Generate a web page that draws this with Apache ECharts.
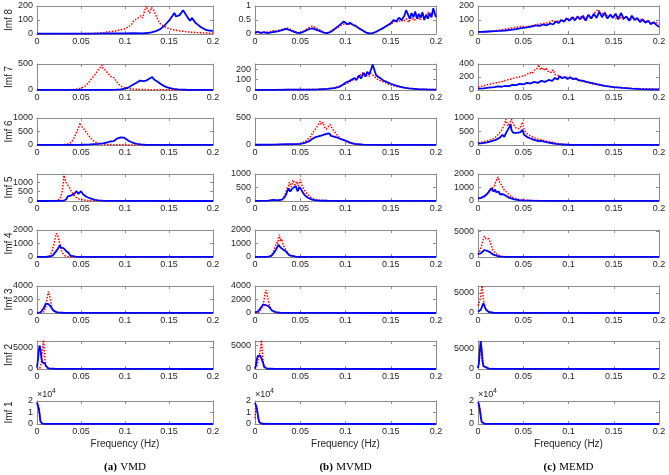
<!DOCTYPE html>
<html><head><meta charset="utf-8">
<script src="https://cdn.jsdelivr.net/npm/echarts@6/dist/echarts.min.js"></script>
<style>html,body{margin:0;padding:0;background:#fff}#c{width:669px;height:475px}</style>
</head><body><div id="c"></div>
<script>
// ---------------- DATA ----------------
const methodNames = ['VMD', 'MVMD', 'MEMD'];
const captionTags = ['(a)', '(b)', '(c)'];
const imfNames = ['Imf 8', 'Imf 7', 'Imf 6', 'Imf 5', 'Imf 4', 'Imf 3', 'Imf 2', 'Imf 1'];
const xTickValues = [0, 0.05, 0.1, 0.15, 0.2];
const xAxisTitle = 'Frequency (Hz)';
// y-axis [max, tick step] per row (Imf 8 ... Imf 1)
const vmdYRange  = [[200,100],[500,500],[1000,500],[1450,500],[2000,1000],[4000,2000],[6400,5000],[20000,10000]];
const mvmdYRange = [[1,0.5],[250,100],[500,500],[1000,500],[2000,1000],[4000,2000],[6000,5000],[20000,10000]];
const memdYRange = [[200,100],[400,200],[1000,500],[2000,1000],[5200,5000],[6700,5000],[6800,5000],[20000,10000]];

// ---- VMD ----
const vmd8_red = [[0,1],[0.02,1],[0.04,2],[0.06,3],[0.07,6],[0.075,9],[0.08,14],[0.085,18],[0.09,24],[0.095,30],[0.1,38],[0.103,48],[0.106,60],[0.108,75],[0.11,95],[0.112,85],[0.114,110],[0.116,100],[0.118,130],[0.12,115],[0.122,160],[0.124,200],[0.126,170],[0.128,150],[0.13,190],[0.132,175],[0.134,150],[0.136,120],[0.138,95],[0.14,75],[0.144,55],[0.148,42],[0.152,34],[0.156,28],[0.16,24],[0.165,20],[0.17,16],[0.175,13],[0.18,11],[0.185,9],[0.19,7],[0.195,6],[0.2,5]];
const vmd8_blue = [[0,2],[0.02,2],[0.04,2],[0.06,3],[0.08,4],[0.1,5],[0.11,6],[0.12,5],[0.125,7],[0.13,12],[0.135,20],[0.14,35],[0.144,55],[0.147,75],[0.15,95],[0.152,100],[0.154,130],[0.156,150],[0.158,125],[0.16,120],[0.162,135],[0.164,125],[0.166,170],[0.168,150],[0.17,130],[0.172,110],[0.174,95],[0.176,115],[0.178,105],[0.18,80],[0.183,65],[0.186,50],[0.19,35],[0.193,28],[0.196,25],[0.2,22]];
const vmd7_red = [[0,2],[0.03,3],[0.04,8],[0.045,15],[0.05,35],[0.055,80],[0.06,170],[0.063,240],[0.066,300],[0.068,350],[0.07,400],[0.072,440],[0.074,480],[0.075,420],[0.076,450],[0.078,380],[0.08,330],[0.082,300],[0.084,260],[0.086,290],[0.088,230],[0.09,170],[0.093,110],[0.096,70],[0.1,40],[0.105,25],[0.11,15],[0.12,10],[0.13,6],[0.14,4],[0.16,2],[0.2,1]];
const vmd7_blue = [[0,1],[0.05,2],[0.08,3],[0.09,6],[0.095,12],[0.1,25],[0.104,50],[0.108,90],[0.111,120],[0.114,150],[0.117,180],[0.119,200],[0.121,170],[0.124,180],[0.127,210],[0.129,240],[0.131,250],[0.133,200],[0.135,180],[0.138,150],[0.141,110],[0.145,70],[0.15,40],[0.155,22],[0.16,12],[0.17,5],[0.18,2],[0.2,1]];
const vmd6_red = [[0,2],[0.02,3],[0.028,8],[0.033,20],[0.037,60],[0.04,150],[0.042,260],[0.044,400],[0.046,560],[0.048,700],[0.049,820],[0.05,720],[0.051,760],[0.053,600],[0.055,560],[0.057,430],[0.059,360],[0.061,250],[0.064,160],[0.067,100],[0.07,60],[0.075,35],[0.08,20],[0.09,10],[0.1,5],[0.12,2],[0.2,1]];
const vmd6_blue = [[0,1],[0.04,3],[0.05,10],[0.06,25],[0.07,45],[0.075,60],[0.08,100],[0.083,130],[0.085,160],[0.087,140],[0.089,200],[0.091,240],[0.093,260],[0.095,280],[0.097,250],[0.099,270],[0.101,200],[0.104,160],[0.107,110],[0.11,70],[0.114,40],[0.118,20],[0.124,8],[0.13,3],[0.2,1]];
const vmd5_red = [[0,2],[0.015,5],[0.02,15],[0.024,50],[0.027,200],[0.029,600],[0.03,1100],[0.0305,1450],[0.031,1300],[0.032,1150],[0.033,1000],[0.034,1050],[0.035,850],[0.036,900],[0.037,700],[0.038,650],[0.04,450],[0.042,300],[0.045,180],[0.048,100],[0.05,70],[0.055,40],[0.06,20],[0.07,8],[0.08,3],[0.2,1]];
const vmd5_blue = [[0,1],[0.025,3],[0.03,15],[0.033,80],[0.035,250],[0.037,330],[0.039,300],[0.041,350],[0.043,420],[0.045,530],[0.047,380],[0.049,420],[0.05,530],[0.052,380],[0.054,300],[0.056,230],[0.058,190],[0.06,150],[0.063,100],[0.066,60],[0.07,35],[0.075,18],[0.08,10],[0.09,4],[0.2,1]];
const vmd4_red = [[0,5],[0.008,10],[0.012,30],[0.015,120],[0.017,400],[0.019,900],[0.02,1200],[0.021,1500],[0.022,1750],[0.023,1650],[0.024,1500],[0.025,1250],[0.026,950],[0.027,700],[0.028,450],[0.029,300],[0.03,180],[0.032,80],[0.035,30],[0.04,12],[0.05,5],[0.2,2]];
const vmd4_blue = [[0,10],[0.01,15],[0.015,40],[0.018,120],[0.02,250],[0.022,450],[0.024,650],[0.025,750],[0.026,880],[0.027,700],[0.028,780],[0.029,620],[0.03,650],[0.031,520],[0.032,560],[0.033,450],[0.034,480],[0.035,350],[0.036,300],[0.037,200],[0.038,100],[0.04,40],[0.045,15],[0.05,8],[0.1,4],[0.2,2]];
const vmd3_red = [[0,5],[0.005,30],[0.008,200],[0.01,900],[0.011,1700],[0.012,2600],[0.013,3200],[0.0135,3300],[0.014,3000],[0.015,2200],[0.016,1400],[0.017,800],[0.018,450],[0.02,150],[0.022,60],[0.025,25],[0.03,10],[0.05,5],[0.2,2]];
const vmd3_blue = [[0,20],[0.004,80],[0.006,300],[0.008,800],[0.01,1400],[0.011,1650],[0.012,1200],[0.013,1300],[0.014,1500],[0.015,1100],[0.016,900],[0.017,650],[0.018,450],[0.02,250],[0.022,130],[0.025,70],[0.03,40],[0.04,25],[0.06,15],[0.1,8],[0.2,4]];
const vmd2_red = [[0,5],[0.003,50],[0.004,300],[0.005,1500],[0.006,3800],[0.007,6000],[0.0075,7000],[0.008,5200],[0.009,2200],[0.01,800],[0.011,300],[0.013,120],[0.015,60],[0.02,20],[0.05,5],[0.2,1]];
const vmd2_blue = [[0,300],[0.001,2000],[0.002,4200],[0.003,5400],[0.0035,5500],[0.004,4500],[0.005,2500],[0.006,1500],[0.007,1200],[0.008,1500],[0.009,1300],[0.01,700],[0.011,300],[0.013,150],[0.015,100],[0.02,60],[0.03,40],[0.05,25],[0.1,10],[0.2,5]];
const vmd1_red = [[0,19000],[0.001,17500],[0.002,15000],[0.003,10000],[0.0035,6000],[0.004,2500],[0.005,800],[0.006,300],[0.008,100],[0.01,50],[0.02,20],[0.2,5]];
const vmd1_blue = [[0,18500],[0.001,17000],[0.002,13500],[0.003,8000],[0.0035,4500],[0.004,2000],[0.005,600],[0.006,250],[0.008,150],[0.01,100],[0.02,60],[0.05,40],[0.2,20]];

// ---- MVMD ----
const mvmd8_red = [[0,0.03],[0.004,0.06],[0.008,0.03],[0.012,0.06],[0.016,0.08],[0.02,0.12],[0.024,0.1],[0.028,0.15],[0.032,0.18],[0.035,0.22],[0.038,0.18],[0.042,0.12],[0.046,0.06],[0.05,0.04],[0.054,0.1],[0.058,0.2],[0.061,0.26],[0.064,0.28],[0.067,0.22],[0.07,0.18],[0.074,0.1],[0.078,0.04],[0.082,0.06],[0.086,0.15],[0.09,0.22],[0.094,0.28],[0.097,0.34],[0.1,0.38],[0.103,0.33],[0.106,0.36],[0.109,0.3],[0.112,0.27],[0.116,0.18],[0.12,0.12],[0.124,0.04],[0.128,0.02],[0.132,0.06],[0.136,0.12],[0.14,0.18],[0.144,0.25],[0.148,0.32],[0.152,0.4],[0.155,0.48],[0.158,0.42],[0.161,0.5],[0.164,0.45],[0.167,0.55],[0.17,0.42],[0.173,0.6],[0.176,0.48],[0.179,0.62],[0.182,0.5],[0.185,0.7],[0.188,0.55],[0.191,0.78],[0.194,0.6],[0.197,0.85],[0.2,0.7]];
const mvmd8_blue = [[0,0.06],[0.003,0.08],[0.006,0.04],[0.01,0.07],[0.014,0.03],[0.018,0.06],[0.022,0.08],[0.026,0.1],[0.03,0.14],[0.034,0.18],[0.037,0.16],[0.04,0.12],[0.044,0.07],[0.048,0.03],[0.052,0.06],[0.056,0.12],[0.06,0.18],[0.064,0.2],[0.068,0.15],[0.072,0.1],[0.076,0.05],[0.08,0.03],[0.084,0.08],[0.088,0.18],[0.092,0.28],[0.095,0.36],[0.098,0.45],[0.1,0.42],[0.102,0.35],[0.105,0.4],[0.108,0.33],[0.111,0.3],[0.114,0.22],[0.118,0.14],[0.122,0.06],[0.126,0.02],[0.13,0.03],[0.134,0.08],[0.138,0.15],[0.142,0.22],[0.146,0.3],[0.15,0.38],[0.153,0.5],[0.156,0.45],[0.159,0.58],[0.162,0.5],[0.165,0.65],[0.167,0.85],[0.169,0.7],[0.171,0.55],[0.173,0.75],[0.175,0.6],[0.177,0.8],[0.179,0.55],[0.181,0.72],[0.183,0.58],[0.185,0.78],[0.187,0.5],[0.189,0.68],[0.191,0.55],[0.193,0.75],[0.195,0.6],[0.197,0.92],[0.199,0.7],[0.2,0.6]];
const mvmd7_red = [[0,3],[0.02,3],[0.04,4],[0.06,5],[0.07,8],[0.08,12],[0.085,18],[0.09,28],[0.095,40],[0.1,55],[0.104,75],[0.108,95],[0.111,110],[0.114,130],[0.117,150],[0.12,170],[0.122,140],[0.124,155],[0.126,130],[0.128,160],[0.13,175],[0.132,130],[0.134,110],[0.137,95],[0.14,85],[0.144,70],[0.148,55],[0.152,45],[0.156,35],[0.16,28],[0.165,20],[0.17,15],[0.18,10],[0.19,6],[0.2,4]];
const mvmd7_blue = [[0,2],[0.02,2],[0.04,3],[0.06,4],[0.07,6],[0.08,10],[0.088,18],[0.093,30],[0.097,50],[0.1,70],[0.102,55],[0.105,90],[0.107,75],[0.11,115],[0.112,95],[0.115,140],[0.117,110],[0.12,165],[0.122,130],[0.124,175],[0.126,150],[0.128,190],[0.13,245],[0.132,190],[0.134,140],[0.136,125],[0.139,110],[0.142,90],[0.146,75],[0.15,60],[0.155,45],[0.16,32],[0.165,22],[0.17,15],[0.18,9],[0.19,6],[0.2,4]];
const mvmd6_red = [[0,3],[0.02,5],[0.035,10],[0.045,15],[0.05,25],[0.055,60],[0.058,100],[0.061,150],[0.064,230],[0.066,280],[0.068,320],[0.07,380],[0.072,440],[0.073,380],[0.075,420],[0.077,330],[0.079,290],[0.081,340],[0.083,380],[0.085,310],[0.087,270],[0.089,220],[0.092,160],[0.095,110],[0.1,70],[0.105,35],[0.11,15],[0.12,6],[0.14,3],[0.2,1]];
const mvmd6_blue = [[0,5],[0.02,8],[0.035,15],[0.045,15],[0.05,20],[0.055,40],[0.06,70],[0.063,110],[0.066,140],[0.068,120],[0.07,160],[0.072,130],[0.074,180],[0.076,150],[0.078,200],[0.08,170],[0.082,215],[0.084,170],[0.086,195],[0.088,150],[0.09,165],[0.092,130],[0.095,110],[0.1,80],[0.105,45],[0.11,20],[0.12,8],[0.14,4],[0.2,2]];
const mvmd5_red = [[0,5],[0.015,15],[0.02,40],[0.025,30],[0.03,60],[0.033,200],[0.035,450],[0.037,550],[0.038,700],[0.04,520],[0.042,780],[0.044,600],[0.046,720],[0.048,560],[0.05,790],[0.052,560],[0.054,430],[0.056,360],[0.058,260],[0.06,180],[0.063,110],[0.066,60],[0.07,30],[0.08,12],[0.1,5],[0.2,2]];
const mvmd5_blue = [[0,5],[0.015,15],[0.02,45],[0.025,25],[0.03,50],[0.033,150],[0.035,300],[0.037,470],[0.039,350],[0.041,450],[0.043,380],[0.045,560],[0.047,360],[0.049,520],[0.051,430],[0.053,300],[0.055,220],[0.058,130],[0.06,90],[0.063,50],[0.066,30],[0.07,18],[0.08,10],[0.1,5],[0.2,2]];
const mvmd4_red = [[0,5],[0.01,10],[0.015,30],[0.018,100],[0.02,300],[0.022,700],[0.024,1100],[0.025,950],[0.026,1400],[0.027,1650],[0.028,1150],[0.029,1350],[0.03,1200],[0.031,900],[0.032,950],[0.034,550],[0.036,300],[0.038,150],[0.04,60],[0.045,20],[0.05,8],[0.2,2]];
const mvmd4_blue = [[0,10],[0.01,15],[0.015,30],[0.018,80],[0.02,200],[0.022,420],[0.024,650],[0.025,750],[0.026,900],[0.027,1000],[0.028,720],[0.029,800],[0.03,750],[0.031,550],[0.032,600],[0.034,420],[0.036,280],[0.038,120],[0.04,50],[0.045,20],[0.05,10],[0.2,3]];
const mvmd3_red = [[0,20],[0.004,80],[0.006,300],[0.008,900],[0.01,1900],[0.011,2800],[0.012,3400],[0.013,3100],[0.014,2300],[0.015,1700],[0.016,1100],[0.018,500],[0.02,200],[0.022,90],[0.025,40],[0.03,15],[0.05,5],[0.2,2]];
const mvmd3_blue = [[0,100],[0.003,200],[0.005,500],[0.007,900],[0.009,1250],[0.01,1350],[0.011,1000],[0.012,1150],[0.013,1300],[0.014,1200],[0.015,1000],[0.017,650],[0.019,350],[0.021,180],[0.024,80],[0.028,40],[0.035,20],[0.06,10],[0.2,3]];
const mvmd2_red = [[0,50],[0.002,600],[0.003,1500],[0.004,2500],[0.005,3200],[0.006,4200],[0.0065,5000],[0.007,6500],[0.0075,6800],[0.008,4000],[0.009,1500],[0.01,500],[0.011,200],[0.013,80],[0.02,20],[0.2,2]];
const mvmd2_blue = [[0,100],[0.001,800],[0.002,2000],[0.003,2800],[0.004,2900],[0.005,2650],[0.006,2800],[0.007,2600],[0.008,2400],[0.009,1300],[0.01,500],[0.011,200],[0.013,100],[0.02,50],[0.05,20],[0.2,5]];
const mvmd1_red = [[0,5000],[0.0008,15000],[0.0015,17000],[0.0025,12000],[0.0035,5000],[0.0045,1500],[0.006,400],[0.008,150],[0.015,60],[0.2,5]];
const mvmd1_blue = [[0,18500],[0.001,17000],[0.002,13500],[0.003,8500],[0.004,4000],[0.005,1300],[0.006,500],[0.008,200],[0.015,80],[0.05,30],[0.2,10]];

// ---- MEMD ----
const memd8_red = [[0,12],[0.008,15],[0.016,20],[0.024,28],[0.03,35],[0.036,42],[0.042,48],[0.048,55],[0.054,52],[0.06,60],[0.066,68],[0.072,75],[0.078,80],[0.082,95],[0.086,85],[0.09,100],[0.094,92],[0.098,110],[0.102,100],[0.106,118],[0.11,105],[0.114,125],[0.118,100],[0.122,130],[0.126,115],[0.13,160],[0.133,175],[0.136,140],[0.14,155],[0.144,120],[0.148,135],[0.152,110],[0.156,125],[0.16,105],[0.164,120],[0.168,100],[0.172,115],[0.176,95],[0.18,105],[0.184,85],[0.188,95],[0.192,75],[0.196,85],[0.2,70]];
const memd8_blue = [[0,15],[0.006,16],[0.012,18],[0.018,20],[0.024,22],[0.03,25],[0.036,30],[0.042,35],[0.048,42],[0.054,48],[0.06,55],[0.064,62],[0.068,58],[0.072,68],[0.076,62],[0.08,75],[0.083,68],[0.086,90],[0.089,78],[0.092,100],[0.095,88],[0.098,112],[0.101,95],[0.104,120],[0.107,98],[0.11,125],[0.113,105],[0.116,130],[0.119,95],[0.122,138],[0.125,110],[0.128,145],[0.131,115],[0.134,160],[0.137,120],[0.14,150],[0.143,110],[0.146,138],[0.149,115],[0.152,145],[0.155,105],[0.158,150],[0.161,110],[0.164,125],[0.167,95],[0.17,130],[0.173,100],[0.176,115],[0.179,85],[0.182,105],[0.185,80],[0.188,95],[0.191,70],[0.194,85],[0.197,65],[0.2,50]];
const memd7_red = [[0,45],[0.005,60],[0.01,80],[0.015,95],[0.02,110],[0.025,125],[0.03,145],[0.035,165],[0.04,185],[0.045,200],[0.05,215],[0.054,240],[0.057,270],[0.06,255],[0.062,300],[0.064,280],[0.066,340],[0.067,390],[0.069,310],[0.071,350],[0.073,300],[0.075,340],[0.077,290],[0.079,320],[0.081,270],[0.083,310],[0.085,240],[0.087,270],[0.089,220],[0.092,200],[0.096,190],[0.1,200],[0.104,180],[0.108,165],[0.112,150],[0.116,135],[0.12,120],[0.125,100],[0.13,85],[0.135,70],[0.14,60],[0.15,45],[0.16,35],[0.17,25],[0.18,20],[0.19,15],[0.2,12]];
const memd7_blue = [[0,20],[0.006,25],[0.012,35],[0.018,45],[0.022,55],[0.026,50],[0.03,65],[0.034,60],[0.038,80],[0.042,75],[0.046,95],[0.05,85],[0.054,110],[0.058,100],[0.062,125],[0.066,110],[0.07,140],[0.074,125],[0.078,155],[0.082,140],[0.085,185],[0.088,160],[0.09,210],[0.093,180],[0.096,200],[0.099,170],[0.102,195],[0.105,165],[0.108,180],[0.111,150],[0.115,145],[0.12,125],[0.125,110],[0.13,95],[0.135,80],[0.14,65],[0.15,45],[0.16,32],[0.17,22],[0.18,15],[0.19,10],[0.2,8]];
const memd6_red = [[0,90],[0.005,110],[0.01,150],[0.015,200],[0.019,280],[0.022,380],[0.025,500],[0.027,600],[0.029,750],[0.031,950],[0.033,700],[0.035,820],[0.037,950],[0.039,780],[0.041,650],[0.043,720],[0.045,600],[0.047,680],[0.049,850],[0.051,560],[0.053,450],[0.055,400],[0.058,330],[0.061,280],[0.064,240],[0.067,200],[0.07,190],[0.074,160],[0.078,130],[0.082,100],[0.086,70],[0.09,45],[0.095,25],[0.1,15],[0.12,8],[0.15,5],[0.2,3]];
const memd6_blue = [[0,50],[0.005,70],[0.01,100],[0.015,140],[0.019,180],[0.022,230],[0.025,300],[0.027,380],[0.029,300],[0.031,450],[0.033,380],[0.035,680],[0.036,780],[0.037,550],[0.039,450],[0.041,380],[0.043,450],[0.045,400],[0.047,480],[0.049,560],[0.051,380],[0.053,320],[0.055,280],[0.058,240],[0.061,200],[0.064,170],[0.067,140],[0.07,150],[0.074,120],[0.078,90],[0.082,65],[0.086,45],[0.09,30],[0.095,18],[0.1,10],[0.12,5],[0.2,2]];
const memd5_red = [[0,200],[0.004,250],[0.008,350],[0.011,550],[0.014,800],[0.016,950],[0.018,1100],[0.019,1300],[0.02,1450],[0.021,1650],[0.022,1800],[0.023,1500],[0.024,1600],[0.025,1300],[0.026,1200],[0.027,1050],[0.028,900],[0.029,800],[0.03,750],[0.031,850],[0.032,700],[0.034,500],[0.036,350],[0.038,260],[0.04,200],[0.045,120],[0.05,70],[0.06,35],[0.08,15],[0.1,8],[0.2,3]];
const memd5_blue = [[0,180],[0.004,250],[0.008,400],[0.011,600],[0.013,800],[0.015,950],[0.016,900],[0.017,700],[0.018,820],[0.019,850],[0.02,650],[0.021,750],[0.022,600],[0.023,700],[0.024,500],[0.025,550],[0.026,450],[0.027,520],[0.028,400],[0.03,420],[0.032,330],[0.034,250],[0.036,180],[0.04,120],[0.045,70],[0.05,45],[0.06,25],[0.08,12],[0.1,6],[0.2,2]];
const memd4_red = [[0,500],[0.002,1200],[0.004,2200],[0.005,3000],[0.006,3500],[0.007,4000],[0.008,3700],[0.009,3500],[0.01,3700],[0.011,3400],[0.012,3500],[0.013,3200],[0.014,2600],[0.015,2000],[0.016,1500],[0.018,1000],[0.02,650],[0.022,400],[0.025,200],[0.028,100],[0.032,50],[0.04,25],[0.1,10],[0.2,5]];
const memd4_blue = [[0,600],[0.001,400],[0.002,500],[0.003,700],[0.005,1000],[0.007,1350],[0.008,1500],[0.009,1450],[0.01,1200],[0.011,1100],[0.012,1150],[0.013,950],[0.014,850],[0.015,700],[0.017,450],[0.019,300],[0.022,150],[0.025,80],[0.03,40],[0.05,20],[0.1,10],[0.2,5]];
const memd3_red = [[0,1800],[0.001,2200],[0.002,3000],[0.003,4200],[0.004,6000],[0.0045,6800],[0.005,5500],[0.006,3500],[0.007,2000],[0.008,1200],[0.01,500],[0.012,200],[0.015,80],[0.02,30],[0.05,10],[0.2,3]];
const memd3_blue = [[0,300],[0.001,350],[0.002,500],[0.003,800],[0.004,1300],[0.005,1900],[0.006,2400],[0.007,2000],[0.008,1300],[0.009,800],[0.01,500],[0.012,250],[0.014,130],[0.017,60],[0.02,30],[0.05,10],[0.2,3]];
const memd2_red = [[0,400],[0.001,1500],[0.002,3500],[0.003,5500],[0.0035,6000],[0.004,4500],[0.005,1800],[0.006,700],[0.008,300],[0.012,150],[0.02,60],[0.05,20],[0.2,5]];
const memd2_blue = [[0,200],[0.001,1500],[0.002,4500],[0.003,6800],[0.0035,6500],[0.004,4800],[0.005,2000],[0.006,700],[0.008,250],[0.012,100],[0.02,40],[0.05,15],[0.2,5]];
const memd1_red = [[0,16000],[0.001,17500],[0.002,14000],[0.003,8000],[0.004,2500],[0.005,800],[0.007,400],[0.01,250],[0.02,120],[0.05,50],[0.2,10]];
const memd1_blue = [[0,19000],[0.001,17000],[0.002,12500],[0.003,6500],[0.004,1800],[0.005,500],[0.007,200],[0.01,100],[0.02,50],[0.2,10]];

const redByMethod = [
  [vmd8_red, vmd7_red, vmd6_red, vmd5_red, vmd4_red, vmd3_red, vmd2_red, vmd1_red],
  [mvmd8_red, mvmd7_red, mvmd6_red, mvmd5_red, mvmd4_red, mvmd3_red, mvmd2_red, mvmd1_red],
  [memd8_red, memd7_red, memd6_red, memd5_red, memd4_red, memd3_red, memd2_red, memd1_red]
];
const blueByMethod = [
  [vmd8_blue, vmd7_blue, vmd6_blue, vmd5_blue, vmd4_blue, vmd3_blue, vmd2_blue, vmd1_blue],
  [mvmd8_blue, mvmd7_blue, mvmd6_blue, mvmd5_blue, mvmd4_blue, mvmd3_blue, mvmd2_blue, mvmd1_blue],
  [memd8_blue, memd7_blue, memd6_blue, memd5_blue, memd4_blue, memd3_blue, memd2_blue, memd1_blue]
];
const yRanges = [vmdYRange, mvmdYRange, memdYRange];

// ---------------- LAYOUT ----------------
const colLeft = [37, 255, 478];
const colWidth = [176, 181, 181];
const rowTop = [6, 64, 118, 174, 230, 286, 341, 401];
const rowBottom = [34, 90, 145, 201, 257, 313, 369, 424];
const FONT = '"Liberation Sans", Arial, Helvetica, sans-serif';
const AX = '#8c8c8c';
const TXT = '#262626';

const grids = [], xAxes = [], yAxes = [], series = [], graphics = [];
let g = 0;
for (let c = 0; c < 3; c++) {
  for (let r = 0; r < 8; r++) {
    const [ymax, yint] = yRanges[c][r];
    const isBottom = r === 7;
    grids.push({left: colLeft[c], top: rowTop[r], width: colWidth[c], height: rowBottom[r] - rowTop[r], containLabel: false});
    const axLine = {show: true, onZero: false, lineStyle: {color: AX, width: 1}};
    const tick = {show: true, inside: true, length: 3, lineStyle: {color: AX, width: 1}};
    xAxes.push({type: 'value', gridIndex: g, position: 'bottom', min: 0, max: 0.2, interval: 0.05,
      axisLine: axLine, axisTick: tick, splitLine: {show: false},
      axisLabel: {fontSize: 9, color: TXT, fontFamily: FONT, margin: 3,
        formatter: v => String(+v.toFixed(2))}});
    xAxes.push({type: 'value', gridIndex: g, position: 'top', min: 0, max: 0.2, interval: 0.05,
      axisLine: axLine, axisTick: tick, splitLine: {show: false}, axisLabel: {show: false}});
    yAxes.push({type: 'value', gridIndex: g, position: 'left', min: 0, max: ymax, interval: yint,
      axisLine: axLine, axisTick: tick, splitLine: {show: false},
      axisLabel: {fontSize: 9, color: TXT, fontFamily: FONT, margin: 4, showMaxLabel: true,
        formatter: v => {
          const k = v / yint;
          if (Math.abs(k - Math.round(k)) > 1e-6) return '';
          return isBottom ? String(Math.round(v / 1e4)) : String(+v.toFixed(3));
        }}});
    yAxes.push({type: 'value', gridIndex: g, position: 'right', min: 0, max: ymax, interval: yint,
      axisLine: axLine, axisTick: tick, splitLine: {show: false}, axisLabel: {show: false}});
    series.push({type: 'line', xAxisIndex: 2 * g, yAxisIndex: 2 * g, data: redByMethod[c][r],
      showSymbol: false, symbol: 'none', clip: true, z: 2,
      lineStyle: {color: '#ff0000', width: 1.5, type: [1.5, 1.5]}});
    series.push({type: 'line', xAxisIndex: 2 * g, yAxisIndex: 2 * g, data: blueByMethod[c][r],
      showSymbol: false, symbol: 'none', clip: true, z: 3,
      lineStyle: {color: '#0000ff', width: 1.8}});
    if (c === 0) {
      graphics.push({type: 'text', x: 9, y: (rowTop[r] + rowBottom[r]) / 2, rotation: Math.PI / 2,
        style: {text: imfNames[r], font: '10px ' + FONT, fill: TXT, align: 'center', verticalAlign: 'middle'}});
    }
    if (isBottom) {
      graphics.push({type: 'text', x: colLeft[c], y: rowTop[r] - 2,
        style: {text: '×10', font: '9px ' + FONT, fill: TXT, align: 'left', verticalAlign: 'bottom'}});
      graphics.push({type: 'text', x: colLeft[c] + 15, y: rowTop[r] - 6,
        style: {text: '4', font: '7px ' + FONT, fill: TXT, align: 'left', verticalAlign: 'bottom'}});
      const cx = colLeft[c] + colWidth[c] / 2;
      graphics.push({type: 'text', x: cx, y: 444,
        style: {text: xAxisTitle, font: '10px ' + FONT, fill: TXT, align: 'center', verticalAlign: 'middle'}});
      graphics.push({type: 'text', x: cx, y: 467,
        style: {text: '{b|' + captionTags[c] + '} {n|' + methodNames[c] + '}',
          align: 'center', verticalAlign: 'middle',
          rich: {b: {fontFamily: '"Liberation Serif", "Times New Roman", serif', fontWeight: 'bold', fontSize: 11, fill: '#000', color: '#000'},
                 n: {fontFamily: '"Liberation Serif", "Times New Roman", serif', fontSize: 11, fill: '#000', color: '#000'}}}});
    }
    g++;
  }
}

const chart = echarts.init(document.getElementById('c'), null, {renderer: 'canvas'});
chart.setOption({
  animation: false,
  backgroundColor: '#ffffff',
  grid: grids, xAxis: xAxes, yAxis: yAxes, series: series, graphic: graphics
});
</script></body></html>
